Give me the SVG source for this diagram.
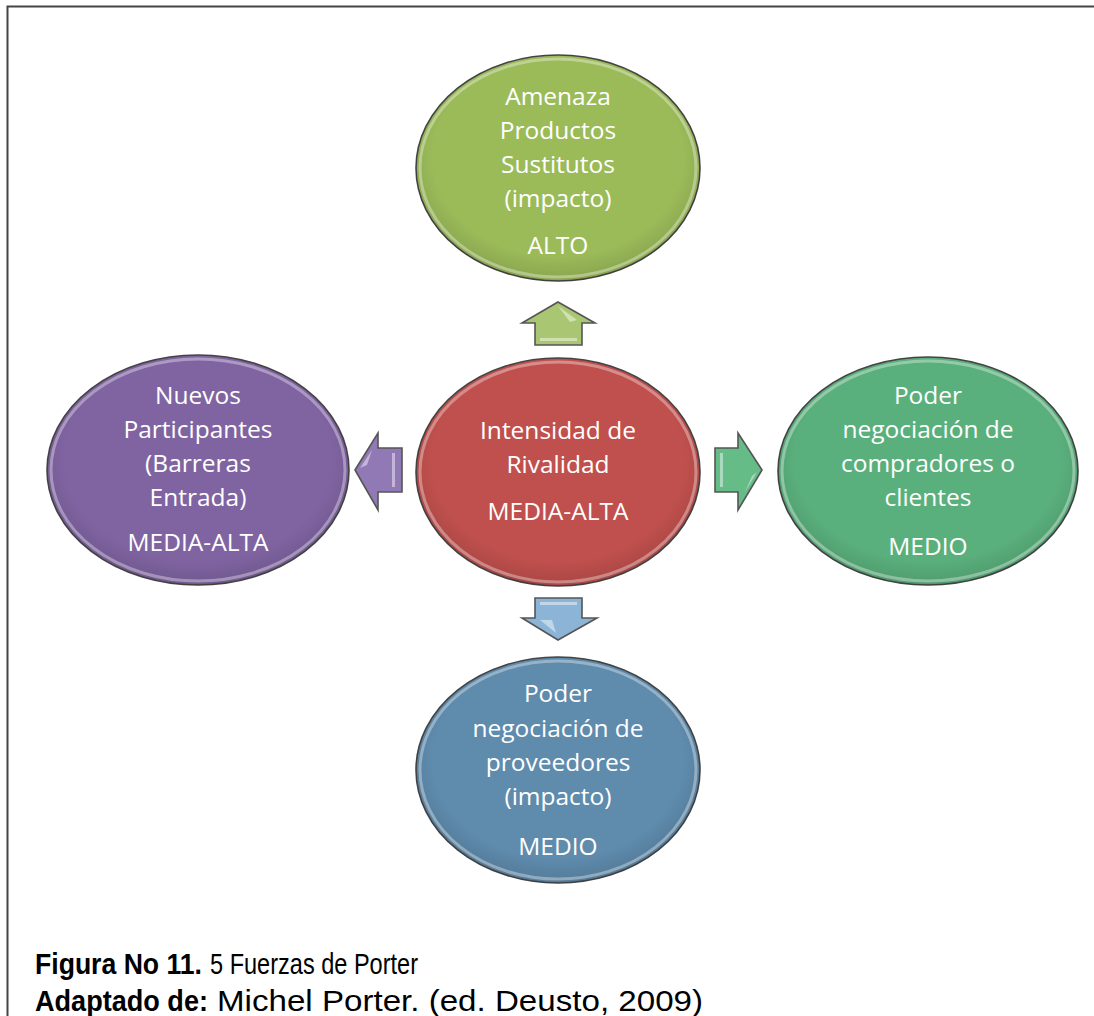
<svg xmlns="http://www.w3.org/2000/svg" width="1094" height="1016" viewBox="0 0 1094 1016">
<defs>
<style>
.t{font-family:"Open Sans","Liberation Sans",sans-serif;font-size:24.5px;fill:#ffffff;text-anchor:middle;}
.ell{stroke:#444;stroke-width:1.6;}
.rim{fill:none;stroke:#ffffff;stroke-opacity:0.35;stroke-width:3;}
.arr{stroke:#555;stroke-width:1.6;stroke-linejoin:miter;}
.hl{fill:#ffffff;fill-opacity:0.45;}
.cap{font-family:"Liberation Sans",Arial,sans-serif;font-size:30px;fill:#000;}
.b{font-weight:bold;}
</style>
<radialGradient id="shade" cx="0.5" cy="0.45" r="0.55">
<stop offset="0.8" stop-color="#000" stop-opacity="0"/>
<stop offset="1" stop-color="#000" stop-opacity="0.12"/>
</radialGradient>
</defs>
<rect x="0" y="0" width="1094" height="1016" fill="#ffffff"/>
<path d="M7.5 1016 V6.5 H1094" fill="none" stroke="#444" stroke-width="2"/>

<g id="connectors">
<g id="arrow-up">
<polygon class="arr" fill="#A9C772" points="558,302 595,323 582,323 582,345 535,345 535,323 522,323"/>
<polygon class="hl" points="558,306 577,320 570,322"/>
<rect class="hl" x="540" y="338" width="37" height="3"/>
</g>
<g id="arrow-left">
<polygon class="arr" fill="#9179B6" points="355,470 378,433 378,448 402,448 402,492 378,492 378,510"/>
<polygon class="hl" points="360,468 372,450 367,465"/>
<rect class="hl" x="392" y="453" width="3" height="34"/>
</g>
<g id="arrow-right">
<polygon class="arr" fill="#65BC87" points="762,470 738,433 738,448 715,448 715,492 738,492 738,510"/>
<rect class="hl" x="720" y="453" width="3" height="34"/>
<polygon class="hl" points="757,472 745,492 752,476"/>
</g>
<g id="arrow-down">
<polygon class="arr" fill="#8CB4D7" points="558,640 597,618 582,618 582,598 535,598 535,618 522,618"/>
<rect class="hl" x="540" y="602" width="37" height="3"/>
<polygon class="hl" points="540,620 552,620 556,633"/>
</g>
</g>

<g id="node-top">
<ellipse class="ell" cx="558" cy="168" rx="142" ry="113" fill="#9BBB59"/>
<ellipse cx="558" cy="168" rx="142" ry="113" fill="url(#shade)"/>
<ellipse class="rim" cx="558" cy="168" rx="138" ry="109"/>
<text class="t" x="558" y="105">Amenaza</text>
<text class="t" x="558" y="139">Productos</text>
<text class="t" x="558" y="173">Sustitutos</text>
<text class="t" x="558" y="207">(impacto)</text>
<text class="t" x="558" y="254">ALTO</text>
</g>

<g id="node-center">
<ellipse class="ell" cx="558" cy="472" rx="142" ry="114" fill="#C0504D"/>
<ellipse cx="558" cy="472" rx="142" ry="114" fill="url(#shade)"/>
<ellipse class="rim" cx="558" cy="472" rx="138" ry="110"/>
<text class="t" x="558" y="439">Intensidad de</text>
<text class="t" x="558" y="473">Rivalidad</text>
<text class="t" x="558" y="520">MEDIA-ALTA</text>
</g>

<g id="node-left">
<ellipse class="ell" cx="198" cy="470" rx="151" ry="115" fill="#8064A2"/>
<ellipse cx="198" cy="470" rx="151" ry="115" fill="url(#shade)"/>
<ellipse class="rim" cx="198" cy="470" rx="147" ry="111"/>
<text class="t" x="198" y="404">Nuevos</text>
<text class="t" x="198" y="438">Participantes</text>
<text class="t" x="198" y="472">(Barreras</text>
<text class="t" x="198" y="506">Entrada)</text>
<text class="t" x="198" y="551">MEDIA-ALTA</text>
</g>

<g id="node-right">
<ellipse class="ell" cx="928" cy="471" rx="150" ry="114" fill="#5AB07C"/>
<ellipse cx="928" cy="471" rx="150" ry="114" fill="url(#shade)"/>
<ellipse class="rim" cx="928" cy="471" rx="146" ry="110"/>
<text class="t" x="928" y="404">Poder</text>
<text class="t" x="928" y="438">negociación de</text>
<text class="t" x="928" y="472">compradores o</text>
<text class="t" x="928" y="506">clientes</text>
<text class="t" x="928" y="555">MEDIO</text>
</g>

<g id="node-bottom">
<ellipse class="ell" cx="558" cy="770" rx="142" ry="113" fill="#5F8BAD"/>
<ellipse cx="558" cy="770" rx="142" ry="113" fill="url(#shade)"/>
<ellipse class="rim" cx="558" cy="770" rx="138" ry="109"/>
<text class="t" x="558" y="702">Poder</text>
<text class="t" x="558" y="737">negociación de</text>
<text class="t" x="558" y="771">proveedores</text>
<text class="t" x="558" y="805">(impacto)</text>
<text class="t" x="558" y="855">MEDIO</text>
</g>

<g id="caption">
<text class="cap b" x="35" y="974" textLength="167" lengthAdjust="spacingAndGlyphs">Figura No 11.</text>
<text class="cap" x="210" y="974" textLength="208" lengthAdjust="spacingAndGlyphs">5 Fuerzas de Porter</text>
<text class="cap b" x="35" y="1011" textLength="173" lengthAdjust="spacingAndGlyphs">Adaptado de:</text>
<text class="cap" x="217" y="1011" textLength="486" lengthAdjust="spacingAndGlyphs">Michel Porter. (ed. Deusto, 2009)</text>
</g>
</svg>
